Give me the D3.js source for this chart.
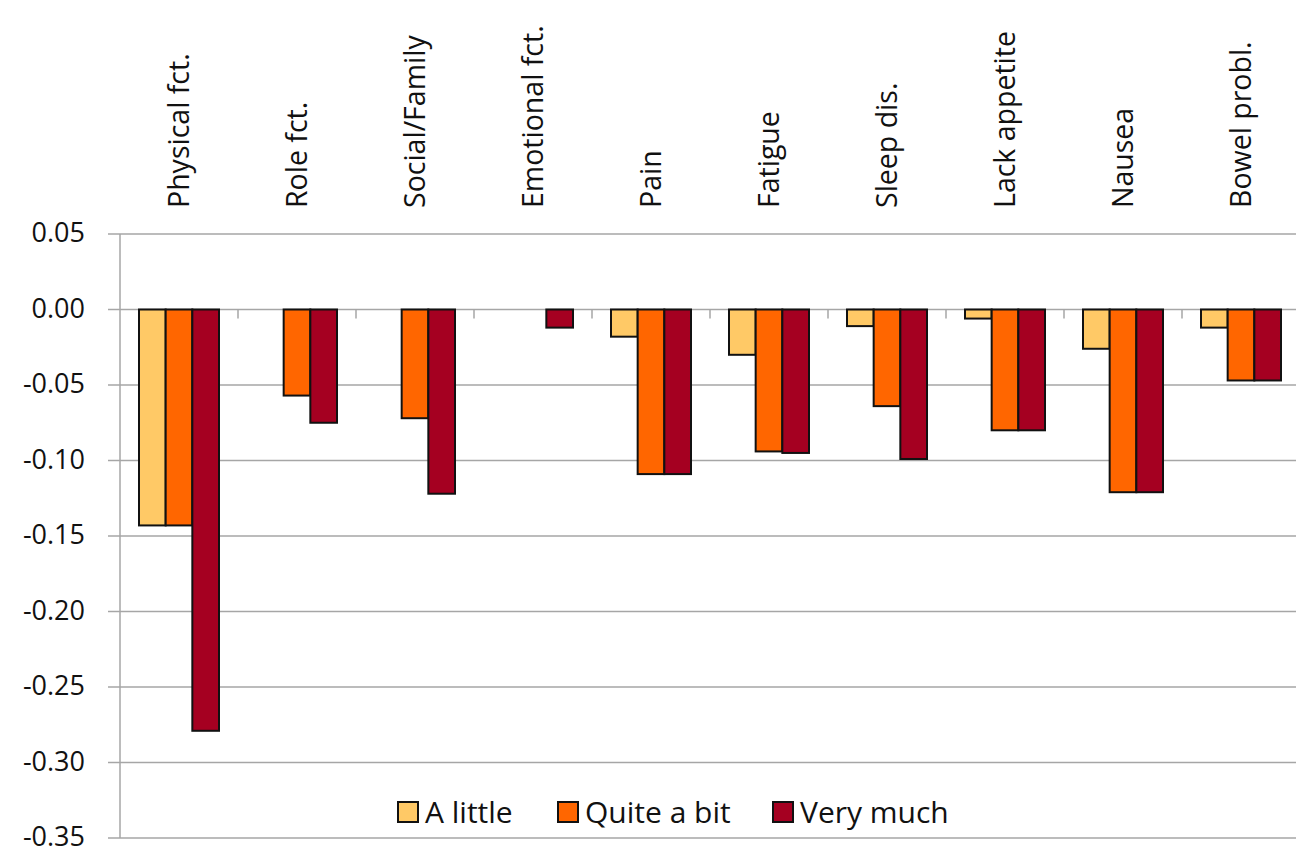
<!DOCTYPE html>
<html>
<head>
<meta charset="utf-8">
<script src="https://cdn.jsdelivr.net/npm/d3@7"></script>
<style>
  body { margin: 0; background: #fff; }
  svg { display: block; font-family: "Open Sans", "Noto Sans", sans-serif; }
  .grid line { stroke: #a6a6a6; stroke-width: 1.5; }
  .bar { stroke: #111; stroke-width: 2; }
</style>
</head>
<body>
<svg id="vis" width="1296" height="849"></svg>
<script>
// categories along the x axis
const categories = ["Physical fct.", "Role fct.", "Social/Family", "Emotional fct.", "Pain",
  "Fatigue", "Sleep dis.", "Lack appetite", "Nausea", "Bowel probl."];

const series = ["A little", "Quite a bit", "Very much"];

// values, one array per series
const aLittle   = [-0.143, 0, 0, 0, -0.018, -0.030, -0.011, -0.006, -0.026, -0.012];
const quiteABit = [-0.143, -0.057, -0.072, 0, -0.109, -0.094, -0.064, -0.080, -0.121, -0.047];
const veryMuch  = [-0.279, -0.075, -0.122, -0.012, -0.109, -0.095, -0.099, -0.080, -0.121, -0.047];

const yTicks = [0.05, 0.00, -0.05, -0.10, -0.15, -0.20, -0.25, -0.30, -0.35];

const colors = {
  "A little": "#ffc966",
  "Quite a bit": "#ff6600",
  "Very much": "#a50021"
};

var svg = d3.select("svg#vis");

var attr = {
  left: 120,
  right: 1300,
  top: 234,
  bottom: 838
};

var x0 = d3.scaleBand()
  .domain(categories)
  .range([attr.left, attr.right]);

var x1 = d3.scaleBand()
  .domain(series)
  .range([19, 99]);

var y = d3.scaleLinear()
  .domain([-0.35, 0.05])
  .range([attr.bottom, attr.top]);

// gridlines
var grid = svg.append("g").attr("class", "grid");
grid.selectAll("line.h")
  .data(yTicks)
  .enter()
  .append("line")
  .attr("x1", attr.left - 12)
  .attr("x2", 1296)
  .attr("y1", d => y(d))
  .attr("y2", d => y(d));

// vertical axis line
grid.append("line")
  .attr("x1", attr.left).attr("x2", attr.left)
  .attr("y1", y(0.05)).attr("y2", y(-0.35));

// category separators on zero line
grid.selectAll("line.sep")
  .data(categories.slice(1))
  .enter()
  .append("line")
  .attr("x1", d => x0(d))
  .attr("x2", d => x0(d))
  .attr("y1", y(0))
  .attr("y2", y(0) + 9);

// y tick labels (plain hyphen for the minus sign, as in the original)
svg.append("g").selectAll("text")
  .data(yTicks)
  .enter()
  .append("text")
  .attr("x", 85)
  .attr("y", d => y(d))
  .attr("dy", "0.3em")
  .attr("text-anchor", "end")
  .attr("font-size", 27)
  .attr("fill", "#111")
  .text(d => d.toFixed(2).replace("-0.00", "0.00"));

// bars
var rows = categories.map((c, i) => ({
  cat: c,
  vals: [aLittle[i], quiteABit[i], veryMuch[i]]
}));

var groups = svg.append("g").selectAll("g")
  .data(rows)
  .enter()
  .append("g")
  .attr("transform", d => "translate(" + x0(d.cat) + ",0)");

groups.selectAll("rect")
  .data(d => d.vals.map((v, j) => ({ key: series[j], value: v })).filter(e => e.value !== 0))
  .enter()
  .append("rect")
  .attr("class", "bar")
  .attr("x", d => x1(d.key))
  .attr("width", x1.bandwidth())
  .attr("y", d => y(Math.max(0, d.value)))
  .attr("height", d => Math.abs(y(d.value) - y(0)))
  .style("fill", d => colors[d.key]);

// category labels, rotated, at top
svg.append("g").selectAll("text")
  .data(categories)
  .enter()
  .append("text")
  .attr("transform", d => "translate(" + (x0(d) + x0.bandwidth() / 2) + ",208) rotate(-90)")
  .attr("dy", "0.36em")
  .attr("font-size", 28.5)
  .attr("fill", "#111")
  .text(d => d);

// legend
var legendX = [398, 558, 773];
var legend = svg.append("g").selectAll("g")
  .data(series)
  .enter()
  .append("g")
  .attr("transform", (d, i) => "translate(" + legendX[i] + ",812)");

legend.append("rect")
  .attr("x", 0)
  .attr("y", -10)
  .attr("width", 20)
  .attr("height", 20)
  .attr("stroke", "#111")
  .attr("stroke-width", 2)
  .style("fill", d => colors[d]);

legend.append("text")
  .attr("x", 27)
  .attr("y", 0)
  .attr("dy", "0.36em")
  .attr("font-size", 30)
  .attr("fill", "#111")
  .text(d => d);
</script>
</body>
</html>
